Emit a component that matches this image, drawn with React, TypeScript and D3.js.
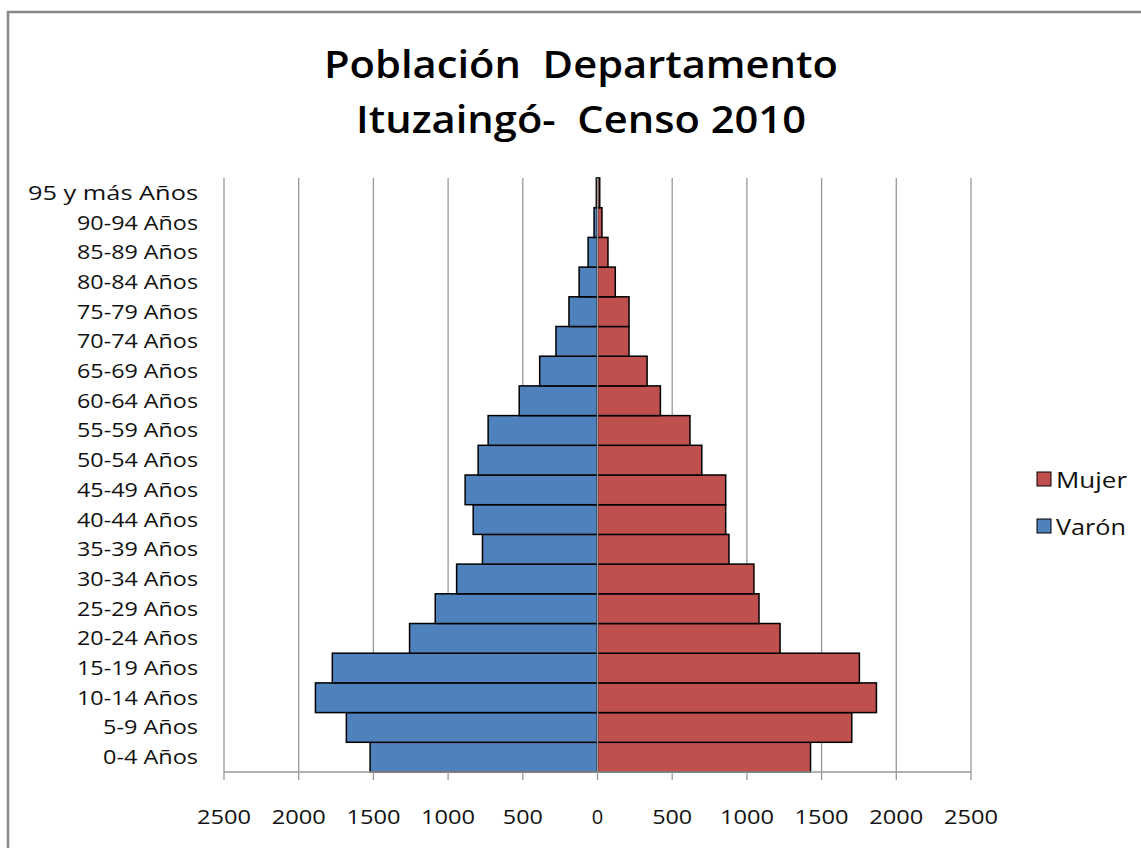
import React from "react";
import * as d3 from "d3";

const categories = ["0-4 Años","5-9 Años","10-14 Años","15-19 Años","20-24 Años","25-29 Años","30-34 Años","35-39 Años","40-44 Años","45-49 Años","50-54 Años","55-59 Años","60-64 Años","65-69 Años","70-74 Años","75-79 Años","80-84 Años","85-89 Años","90-94 Años","95 y más Años"];
const varon = [1522, 1681, 1888, 1775, 1258, 1086, 943, 770, 832, 886, 799, 732, 524, 387, 278, 191, 123, 63, 23, 8];
const mujer = [1426, 1702, 1867, 1753, 1222, 1081, 1047, 880, 858, 858, 698, 619, 421, 332, 211, 211, 119, 70, 30, 15];
const xTicks = [-2500, -2000, -1500, -1000, -500, 0, 500, 1000, 1500, 2000, 2500];
const titleLines = ["Población  Departamento", "Ituzaingó-  Censo 2010"];

const BLUE = "#4F81BD";
const RED = "#C0504D";
const FONT = "'Open Sans', 'DejaVu Sans', sans-serif";

function labelWidth(c: string) {
  if (c.startsWith("95")) return 170;
  if (c.length <= 8) return 95;
  return 121;
}

export default function App() {
  const W = 1141, H = 848;
  const x = d3.scaleLinear().domain([-2500, 2500]).range([224, 971]);
  const y = d3.scaleBand().domain([...categories].reverse()).range([178, 772]).padding(0);
  const bw = y.bandwidth();
  return (
    <svg width={W} height={H} style={{ position: "absolute", left: 0, top: 0 }}>
      <rect x={0} y={0} width={W} height={H} fill="#fff" />
      <path d={`M8,${H} L8,12 L${W},12`} fill="none" stroke="#888" strokeWidth={2.5} />
      {titleLines.map((t, i) => (
        <text key={t} x={581} y={78 + i * 55} textAnchor="middle" fontFamily={FONT} fontWeight={600}
          fontSize={38} fill="#000" style={{ whiteSpace: "pre" }}
          textLength={i === 0 ? 514 : 450} lengthAdjust="spacingAndGlyphs">{t}</text>
      ))}
      {xTicks.map(t => (
        <line key={"g" + t} x1={x(t)} x2={x(t)} y1={178} y2={772} stroke="#999" strokeWidth={1.3} />
      ))}
      {categories.map((c, i) => (
        <g key={c}>
          <rect x={x(-varon[i])} y={y(c)!} width={x(0) - x(-varon[i])} height={bw} fill={BLUE} stroke="#000" strokeWidth={1.5} />
          <rect x={x(0)} y={y(c)!} width={x(mujer[i]) - x(0)} height={bw} fill={RED} stroke="#000" strokeWidth={1.5} />
        </g>
      ))}
      <line x1={x(0)} x2={x(0)} y1={178} y2={772} stroke="#999" strokeWidth={1.3} />
      <line x1={224} x2={971} y1={772} y2={772} stroke="#999" strokeWidth={1.3} />
      {xTicks.map(t => (
        <g key={"t" + t}>
          <line x1={x(t)} x2={x(t)} y1={772} y2={780} stroke="#999" strokeWidth={1.3} />
          <text x={x(t)} y={824} textAnchor="middle" fontFamily={FONT} fontSize={20} fill="#111"
            textLength={t === 0 ? undefined : Math.abs(t) >= 1000 ? 54 : 40} lengthAdjust="spacingAndGlyphs">{Math.abs(t)}</text>
        </g>
      ))}
      {categories.map(c => (
        <text key={"l" + c} x={198} y={y(c)! + bw / 2 + 7} textAnchor="end" fontFamily={FONT} fontSize={20} fill="#111"
          textLength={labelWidth(c)} lengthAdjust="spacingAndGlyphs">{c}</text>
      ))}
      <rect x={1037} y={472} width={14} height={14} fill={RED} stroke="#000" strokeWidth={1} />
      <text x={1056} y={488} fontFamily={FONT} fontSize={21} fill="#111" textLength={71} lengthAdjust="spacingAndGlyphs">Mujer</text>
      <rect x={1037} y={519} width={14} height={14} fill={BLUE} stroke="#000" strokeWidth={1} />
      <text x={1056} y={535} fontFamily={FONT} fontSize={21} fill="#111" textLength={70} lengthAdjust="spacingAndGlyphs">Varón</text>
    </svg>
  );
}
